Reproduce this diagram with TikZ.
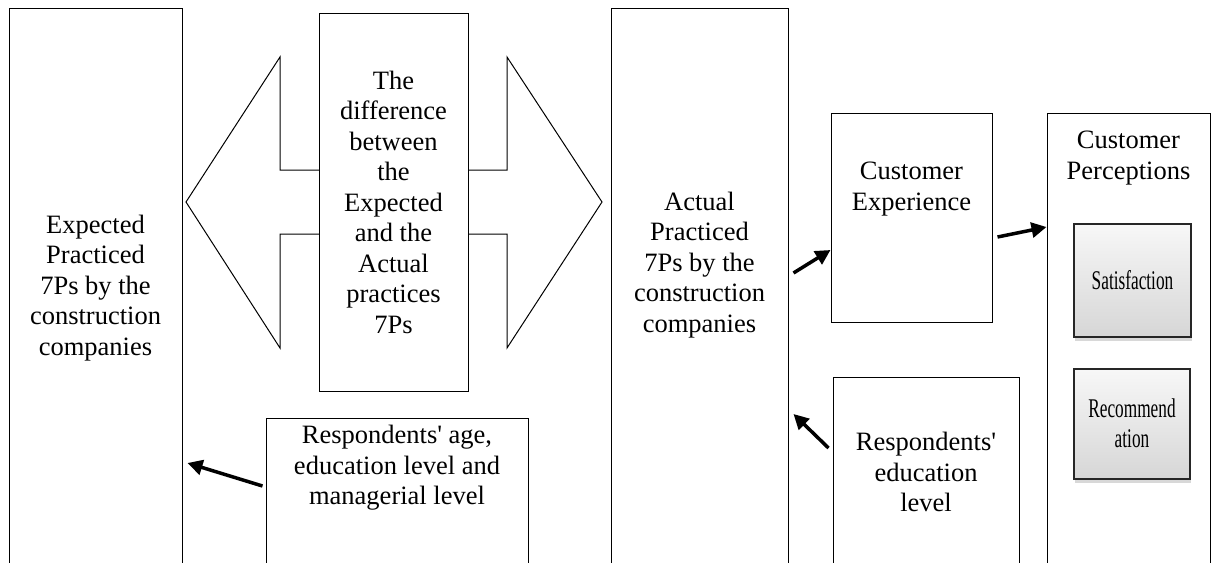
\documentclass[tikz,border=0pt]{standalone}
\usepackage{fontspec}
\setmainfont{Liberation Serif}
\newfontfamily\narrowfont[FakeStretch=0.64]{Liberation Serif}
\usetikzlibrary{positioning,arrows.meta,shadows}

\tikzset{
  box/.style={draw, line width=1pt, align=center, inner sep=0pt},
  txt/.style={align=center, inner sep=0pt},
  gbox/.style={draw=black!85, line width=1.5pt, top color=gray!6, bottom color=gray!32,
    drop shadow={shadow xshift=1pt, shadow yshift=-4pt, opacity=0.3},
    align=center, inner sep=0pt, font=\fontsize{27}{30}\narrowfont},
  fleche/.style={line width=3.5pt, -{Triangle[length=15pt,width=15pt]}},
}

\begin{document}
\begin{tikzpicture}[x=1pt, y=-1pt, font=\fontsize{26.5}{30.5}\selectfont]
  \clip (0,0) rectangle (1212,562);
  \fill[white] (0,0) rectangle (1212,562);

  % Les boîtes
  \node (exp) [box, minimum width=173pt, minimum height=560pt] at (95.5,288) {Expected\\Practiced\\7Ps by the\\construction\\companies};
  \node (diff) [box, minimum width=149pt, minimum height=378pt] at (393.5,202) {The\\difference\\between\\the\\Expected\\and the\\Actual\\practices\\7Ps};
  \node (act) [box, minimum width=177pt, minimum height=560pt] at (699.5,288) {};
  \node (acttxt) [txt] at (699.5,265) {Actual\\Practiced\\7Ps by the\\construction\\companies};
  \node (age) [box, minimum width=262pt, minimum height=300pt, anchor=north] at (397,418) {};
  \node (agetxt) [txt, below=7pt of age.north] {Respondents\textquotesingle{} age,\\education level and\\managerial level};
  \node (exper) [box, minimum width=161pt, minimum height=209pt, anchor=north] at (911.5,113) {};
  \node (expertxt) [txt, below=49pt of exper.north] {Customer\\Experience};
  \node (edu) [box, minimum width=186pt, minimum height=300pt, anchor=north] at (926,377) {};
  \node (edutxt) [txt, below=55pt of edu.north] {Respondents\textquotesingle\\education\\level};
  \node (perc) [box, minimum width=163pt, minimum height=500pt, anchor=north] at (1128.5,113) {};
  \node (perctxt) [txt, below=18pt of perc.north] {Customer\\Perceptions};
  \node (sat) [gbox, minimum width=117pt, minimum height=113pt, anchor=north] at (1132.5,223) {Satisfaction};
  \node (rec) [gbox, minimum width=116pt, minimum height=110pt, anchor=north] at (1132,368) {Recommend\\ation};

  % La double flèche
  \draw[line width=1pt] (319,170) -- (280,170) -- (280,57) -- (186,202) -- (280,348) -- (280,234) -- (319,234);
  \draw[line width=1pt] (468,170) -- (507,170) -- (507,57) -- (602,202) -- (507,348) -- (507,234) -- (468,234);

  % Les flèches
  \draw[fleche] ([xshift=5pt]act.east |- 0,273) -- (exper.west |- 0,250);
  \draw[fleche] ([xshift=5pt]exper.east |- 0,237) -- (perc.west |- 0,227);
  \draw[fleche] ([xshift=-4pt]edu.west |- 0,448) -- ([xshift=5pt]act.east |- 0,414);
  \draw[fleche] ([xshift=-3pt]age.west |- 0,486) -- ([xshift=5pt]exp.east |- 0,463);
\end{tikzpicture}
\end{document}
